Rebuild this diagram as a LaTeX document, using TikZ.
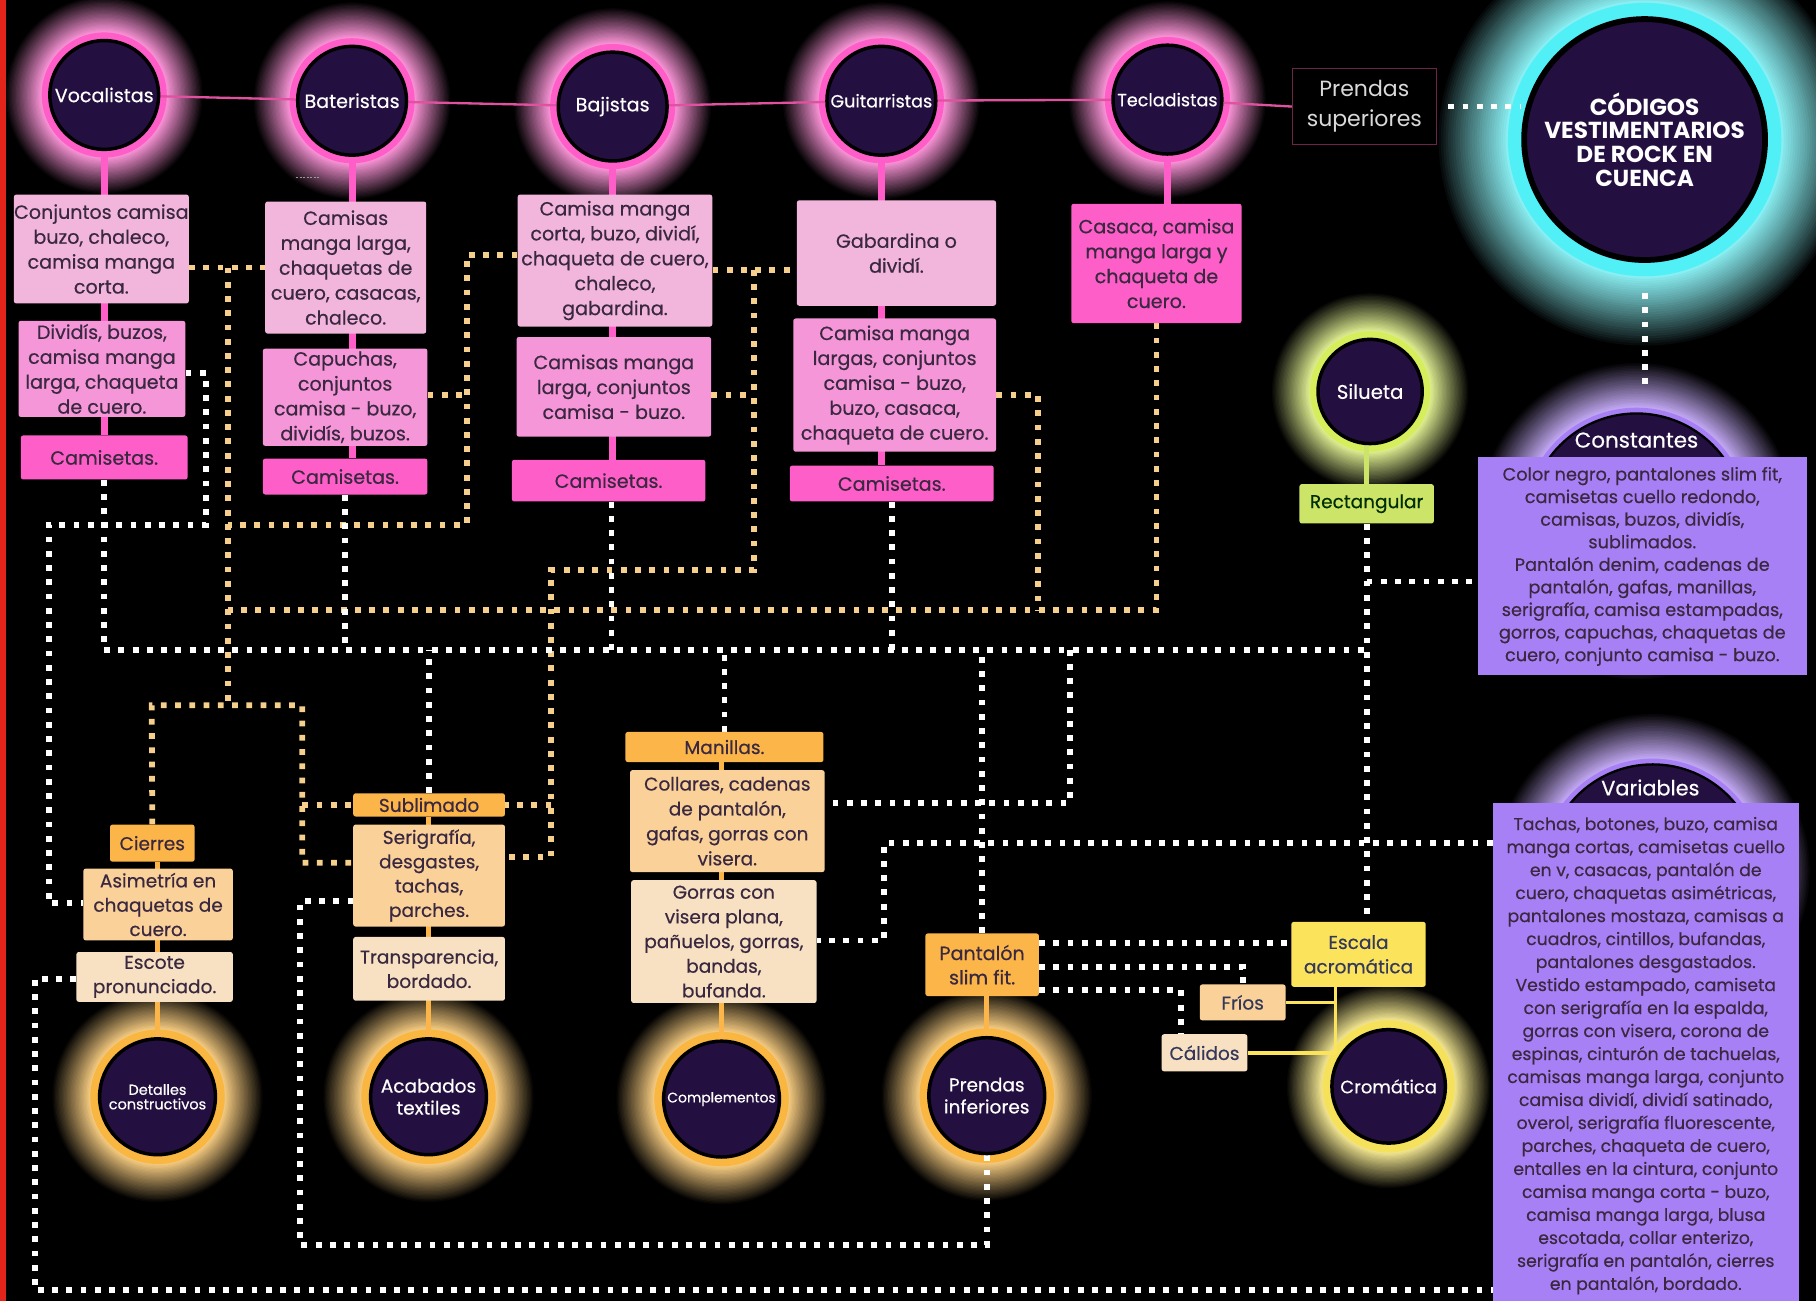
\documentclass[tikz,border=0pt]{standalone}
\usepackage{fontspec}
\setmainfont{Poppins}
\newfontfamily\medf{Poppins}[FakeBold=0.45]
\usetikzlibrary{calc}
\pgfdeclarelayer{bg}
\pgfdeclarelayer{glow}
\pgfdeclarelayer{lines}
\pgfsetlayers{bg,glow,lines,main}
\definecolor{redstripe}{HTML}{E3241B}
\definecolor{cfill}{HTML}{241040}
\definecolor{pinkA}{HTML}{F2B6DC}
\definecolor{pinkB}{HTML}{F596D8}
\definecolor{pinkC}{HTML}{FD5EC8}
\definecolor{pinkline}{HTML}{FF5EC8}
\definecolor{topline}{HTML}{E0529F}
\definecolor{oraA}{HTML}{FBB548}
\definecolor{oraB}{HTML}{F9D199}
\definecolor{oraC}{HTML}{F7E1C2}
\definecolor{odot}{HTML}{F7CF8C}
\definecolor{yel}{HTML}{FCE35C}
\definecolor{lime}{HTML}{CCE467}
\definecolor{limeg}{HTML}{D6EE5C}
\definecolor{purp}{HTML}{A880F6}
\definecolor{cyang}{HTML}{50F0F6}
\definecolor{orag}{HTML}{F9B640}
\definecolor{yelg}{HTML}{F6E15A}
\definecolor{boxtxt}{HTML}{3A2840}
\definecolor{navytxt}{HTML}{34385A}
\definecolor{pstxt}{HTML}{D9D9D9}
\definecolor{psbord}{HTML}{6E2448}
% #1 centre, #2 radius, #3 colour, #4 solid ring width, #5 fade width, #6 fade exponent
\newcommand\glowring[6]{%
  \foreach \k in {30,29,...,1}{%
    \pgfmathtruncatemacro\pc{100*(1-\k/30)^#6}%
    \pgfmathsetmacro\rr{#2+#4+#5*\k/30}%
    \fill[#3!65!white!\pc!black] #1 circle (\rr pt);
  }%
  \pgfmathsetmacro\rr{#2+#4}%
  \fill[#3] #1 circle (\rr pt);
}
\tikzset{
  box/.style={rectangle, rounded corners=2pt, inner sep=0pt, align=center, text=boxtxt, font=\medf\fontsize{16.5}{21.5}\selectfont},
  crc/.style={circle, fill=cfill, draw=black, line width=3pt, inner sep=0pt, align=center, text=white},
  wdot/.style={draw=white, line width=5pt, dash pattern=on 5pt off 7.3pt},
  odots/.style={draw=odot, line width=5pt, dash pattern=on 5pt off 7.3pt},
  pinkc/.style={draw=pinkline, line width=6pt},
  orac/.style={draw=oraA, line width=4.5pt},
  yelc/.style={draw=yel, line width=3pt},
  limec/.style={draw=lime, line width=4pt},
}
\begin{document}
\begin{tikzpicture}[x=1pt,y=-1pt]
\useasboundingbox (0,0) rectangle (1568,1123);
\begin{pgfonlayer}{bg}
\fill[black] (0,0) rectangle (1568,1123);
\end{pgfonlayer}

% ---------- top circles ----------
\node[crc, minimum size=94, font=\medf\fontsize{16.5}{18}\selectfont] (Voc) at (90,82) {Vocalistas};
\node[crc, minimum size=94, font=\medf\fontsize{16.5}{18}\selectfont] (Bat) at (304,87) {Bateristas};
\node[crc, minimum size=94, font=\medf\fontsize{16.5}{18}\selectfont] (Baj) at (529,92) {Bajistas};
\node[crc, minimum size=94, font=\medf\fontsize{15.2}{17}\selectfont] (Gui) at (761,87) {Guitarristas};
\node[crc, minimum size=94, font=\medf\fontsize{15.2}{17}\selectfont] (Tec) at (1008,86) {Tecladistas};

\node[rectangle, draw=psbord, line width=1pt, minimum width=124, minimum height=66, inner sep=0pt, align=center, text=pstxt, font=\fontsize{19}{26}\selectfont] (PS) at (1178,92) {Prendas\\superiores};

\node[crc, line width=5pt, minimum size=208, font=\fontsize{20}{20.5}\bfseries\selectfont] (Main) at (1420,120.5) {CÓDIGOS\\VESTIMENTARIOS\\DE ROCK EN\\CUENCA};

% ---------- pink boxes ----------
\node[box, fill=pinkA, minimum width=151, minimum height=94] (V1) at (87.5,215) {Conjuntos camisa\\buzo, chaleco,\\camisa manga\\corta.};
\node[box, fill=pinkB, minimum width=144, minimum height=83] (V2) at (88,318.5) {Dividís, buzos,\\camisa manga\\larga, chaqueta\\de cuero.};
\node[box, fill=pinkC, minimum width=144, minimum height=38] (V3) at (90,395) {Camisetas.};

\node[box, fill=pinkA, minimum width=139, minimum height=114] (B1) at (298.5,231) {Camisas\\manga larga,\\chaquetas de\\cuero, casacas,\\chaleco.};
\node[box, fill=pinkB, minimum width=142, minimum height=84] (B2) at (298,343) {Capuchas,\\conjuntos\\camisa - buzo,\\dividís, buzos.};
\node[box, fill=pinkC, minimum width=142, minimum height=31] (B3) at (298,411.5) {Camisetas.};

\node[box, fill=pinkA, minimum width=168, minimum height=114] (J1) at (531,225) {Camisa manga\\corta, buzo, dividí,\\chaqueta de cuero,\\chaleco,\\gabardina.};
\node[box, fill=pinkB, minimum width=168, minimum height=86] (J2) at (530,334) {Camisas manga\\larga, conjuntos\\camisa - buzo.};
\node[box, fill=pinkC, minimum width=167, minimum height=36] (J3) at (525.5,415) {Camisetas.};

\node[box, fill=pinkA, minimum width=172, minimum height=91] (G1) at (774,218.5) {Gabardina o\\dividí.};
\node[box, fill=pinkB, minimum width=175, minimum height=115] (G2) at (772.5,332.5) {Camisa manga\\largas, conjuntos\\camisa - buzo,\\buzo, casaca,\\chaqueta de cuero.};
\node[box, fill=pinkC, minimum width=176, minimum height=31] (G3) at (770,417.5) {Camisetas.};

\node[box, fill=pinkC, minimum width=147, minimum height=103] (T1) at (998.5,227.5) {Casaca, camisa\\manga larga y\\chaqueta de\\cuero.};

% ---------- silueta ----------
\node[crc, minimum size=90, font=\medf\fontsize{17}{19}\selectfont] (Sil) at (1183,338) {Silueta};
\node[box, fill=lime, minimum width=116, minimum height=34, text=black!70!green!60!black, font=\medf\fontsize{16}{18}\selectfont] (Rect) at (1180,435) {Rectangular};

% ---------- constantes / variables ----------
\node[circle, fill=cfill, draw=black, line width=2pt, minimum size=186, inner sep=0pt] (CH) at (1413,450) {};
\node[text=white, font=\medf\fontsize{18.5}{20}\selectfont] (CHl) at (1413,380) {Constantes};
\node[box, rounded corners=0pt, fill=purp, minimum width=284, minimum height=188, font=\medf\fontsize{15.3}{19.5}\selectfont] (Const) at (1418,489) {Color negro, pantalones slim fit,\\camisetas cuello redondo,\\camisas, buzos, dividís,\\sublimados.\\Pantalón denim, cadenas de\\pantalón, gafas, manillas,\\serigrafía, camisa estampadas,\\gorros, capuchas, chaquetas de\\cuero, conjunto camisa - buzo.};

\node[circle, fill=cfill, draw=black, line width=2pt, minimum size=184, inner sep=0pt] (VH) at (1427,752) {};
\node[text=white, font=\medf\fontsize{18}{20}\selectfont] (VHl) at (1425,680) {Variables};
\node[box, rounded corners=0pt, fill=purp, minimum width=264, minimum height=436, font=\medf\fontsize{14.9}{19.85}\selectfont] (Var) at (1421,911.5) {Tachas, botones, buzo, camisa\\manga cortas, camisetas cuello\\en v, casacas, pantalón de\\cuero, chaquetas asimétricas,\\pantalones mostaza, camisas a\\cuadros, cintillos, bufandas,\\pantalones desgastados.\\Vestido estampado, camiseta\\con serigrafía en la espalda,\\gorras con visera, corona de\\espinas, cinturón de tachuelas,\\camisas manga larga, conjunto\\camisa dividí, dividí satinado,\\overol, serigrafía fluorescente,\\parches, chaqueta de cuero,\\entalles en la cintura, conjunto\\camisa manga corta - buzo,\\camisa manga larga, blusa\\escotada, collar enterizo,\\serigrafía en pantalón, cierres\\en pantalón, bordado.};

% ---------- bottom boxes ----------
\node[box, fill=oraA, minimum width=73, minimum height=32, font=\medf\fontsize{16}{18}\selectfont] (Cierres) at (131.5,728) {Cierres};
\node[box, fill=oraB, minimum width=129, minimum height=62, font=\medf\fontsize{16}{21}\selectfont] (Asim) at (136.5,781) {Asimetría en\\chaquetas de\\cuero.};
\node[box, fill=oraC, minimum width=135, minimum height=43, font=\medf\fontsize{16}{21}\selectfont] (Escote) at (133.5,843.5) {Escote\\pronunciado.};
\node[crc, minimum size=100, font=\medf\fontsize{12.5}{12.5}\selectfont] (Det) at (136,947) {Detalles\\constructivos};

\node[box, fill=oraA, minimum width=131, minimum height=20, font=\medf\fontsize{16}{18}\selectfont] (Subl) at (370.5,695) {Sublimado};
\node[box, fill=oraB, minimum width=131, minimum height=88, font=\medf\fontsize{16}{21}\selectfont] (Serig) at (370.5,756) {Serigrafía,\\desgastes,\\tachas,\\parches.};
\node[box, fill=oraC, minimum width=131, minimum height=55, font=\medf\fontsize{16}{21}\selectfont] (Transp) at (370.5,836.5) {Transparencia,\\bordado.};
\node[crc, minimum size=100, font=\medf\fontsize{16}{19}\selectfont] (Acab) at (370,947) {Acabados\\textiles};

\node[box, fill=oraA, minimum width=171, minimum height=26, font=\medf\fontsize{16}{18}\selectfont] (Man) at (625.5,645) {Manillas.};
\node[box, fill=oraB, minimum width=168, minimum height=88, font=\medf\fontsize{16}{21.5}\selectfont] (Coll) at (628,709) {Collares, cadenas\\de pantalón,\\gafas, gorras con\\visera.};
\node[box, fill=oraC, minimum width=160, minimum height=106, font=\medf\fontsize{16}{21.3}\selectfont] (Gorras) at (625,813) {Gorras con\\visera plana,\\pañuelos, gorras,\\bandas,\\bufanda.};
\node[crc, minimum size=100, font=\medf\fontsize{12}{14}\selectfont] (Comp) at (623,949) {Complementos};

\node[box, fill=oraA, minimum width=98, minimum height=54, font=\medf\fontsize{16.5}{21}\selectfont] (Pant) at (848,833) {Pantalón\\slim fit.};
\node[crc, minimum size=100, font=\medf\fontsize{16}{19}\selectfont] (PInf) at (852,946) {Prendas\\inferiores};

\node[box, fill=yel, minimum width=116, minimum height=56, text=navytxt, font=\medf\fontsize{16}{21}\selectfont] (Escala) at (1173,824) {Escala\\acromática};
\node[box, fill=oraB, minimum width=74, minimum height=31, text=navytxt, font=\medf\fontsize{16}{18}\selectfont] (Frios) at (1073,865.5) {Fríos};
\node[box, fill=oraC, minimum width=74, minimum height=32, text=navytxt, font=\medf\fontsize{16}{18}\selectfont] (Calidos) at (1040,909) {Cálidos};
\node[crc, minimum size=98, font=\medf\fontsize{15.5}{17}\selectfont] (Crom) at (1199,938) {Cromática};

% left red edge
\fill[redstripe] (0,0) rectangle (5,1123);

% ---------- junction coordinates ----------
\coordinate (oA) at (197,231);
\coordinate (oB) at (197,609);
\coordinate (oC) at (131,609);
\coordinate (oD) at (261,609);
\coordinate (oE) at (261,745);
\coordinate (oF) at (403,220);
\coordinate (oG) at (403,453);
\coordinate (oH) at (403,341);
\coordinate (oI) at (651,233);
\coordinate (oJ) at (651,492);
\coordinate (oK) at (476,492);
\coordinate (oL) at (476,740);
\coordinate (oM) at (651,341);
\coordinate (oN) at (896,341);
\coordinate (oP) at (896,527);
\coordinate (oR) at (197,527);
\coordinate (wA) at (178,322);
\coordinate (wB) at (178,453);
\coordinate (wC) at (42,453);
\coordinate (wD) at (42,780);
\coordinate (bus) at (0,561);
\coordinate (wF) at (924,561);
\coordinate (wG) at (924,693);
\coordinate (wH) at (1180,502);
\coordinate (wI) at (763,728);
\coordinate (wJ) at (763,812);
\coordinate (wK) at (0,814);
\coordinate (wL) at (1073,835);
\coordinate (wM) at (1020,855);
\coordinate (wN) at (259,1075);
\coordinate (wP) at (259,778);
\coordinate (wQ) at (30,845);
\coordinate (wR) at (30,1114);
\coordinate (yJ) at (1153,910);
\coordinate (art1) at (256,153);
\coordinate (art2) at (276,153);

\begin{pgfonlayer}{lines}
% top line
\draw[draw=topline, line width=2pt] (Voc) -- (Bat) -- (Baj) -- (Gui) -- (Tec) -- (PS.west);
% pink columns
\draw[pinkc] (Voc) -- (Voc |- V3.north);
\draw[pinkc] (Bat) -- (Bat |- B3.north);
\draw[pinkc] (Baj) -- (Baj |- J3.north);
\draw[pinkc] (Gui) -- (Gui |- G3.north);
\draw[pinkc] (Tec) -- (Tec |- T1.north);
% bottom columns
\draw[orac] (Det) -- (Det |- Cierres.south);
\draw[orac] (Acab) -- (Acab |- Subl.south);
\draw[orac] (Comp) -- (Comp |- Man.south);
\draw[orac] (PInf) -- (PInf |- Pant.south);
\draw[limec] (Rect.north) -- (Rect.north |- Sil.south);
% yellow
\draw[yelc] (Escala.south -| yJ) -- (yJ);
\draw[yelc] (Frios.east) -- (Frios.east -| yJ);
\draw[yelc] (Calidos.east) -- (Calidos.east -| yJ);
% orange dotted network
\draw[odots] (V1.east |- oA) -- (B1.west |- oA);
\draw[odots] (oA) -- (oB);
\draw[odots] (Cierres.north) -- (oC) -- (oD) -- (oE) -- (Serig.west |- oE);
\draw[odots] (oD |- Subl.west) -- (Subl.west);
\draw[odots] (J1.west |- oF) -- (oF) -- (oG) -- (oG -| oA);
\draw[odots] (B2.east |- oH) -- (oH);
\draw[odots] (J1.east |- oI) -- (G1.west |- oI);
\draw[odots] (oI) -- (oJ) -- (oK) -- (oL) -- (Serig.east |- oL);
\draw[odots] (oK |- Subl.east) -- (Subl.east);
\draw[odots] (J2.east |- oM) -- (oM);
\draw[odots] (G2.east |- oN) -- (oN) -- (oP);
\draw[odots] (T1.south) -- (T1.south |- oP) -- (oR);
% white dotted network
\draw[wdot] (V2.east |- wA) -- (wA) -- (wB) -- (wC) -- (wD) -- (Asim.west |- wD);
\draw[wdot] (V3.south) -- (V3.south |- bus);
\draw[wdot] (B3.south) -- (B3.south |- bus);
\draw[wdot] ([xshift=2.5pt]J3.south) -- ([xshift=2.5pt]J3.south |- bus);
\draw[wdot] (G3.south) -- (G3.south |- bus);
\draw[wdot] (V3.south |- bus) -- (Rect.south |- bus);
\draw[wdot] (Subl.north) -- (Subl.north |- bus);
\draw[wdot] (Man.north) -- (Man.north |- bus);
\draw[wdot] (Pant.north) -- (Pant.north |- bus);
\draw[wdot] (wF) -- (wG) -- (Coll.east |- wG);
\draw[wdot] (Rect.south) -- (Rect.south |- Escala.north);
\draw[wdot] (wH) -- (Const.west |- wH);
\draw[wdot] (Var.west |- wI) -- (wI) -- (wJ) -- (Gorras.east |- wJ);
\draw[wdot] (Pant.east |- wK) -- (Escala.west |- wK);
\draw[wdot] (Pant.east |- wL) -- (wL) -- (Frios.north);
\draw[wdot] (Pant.east |- wM) -- (wM) -- (wM |- Calidos.north);
\draw[wdot] (PInf.south) -- (PInf.south |- wN) -- (wN) -- (wP) -- (Serig.west |- wP);
\draw[wdot] (Escote.west |- wQ) -- (wQ) -- (wR) -- (Var.west |- wR);
\draw[wdot, shorten <=10pt] (PS.east) -- (Main.west |- PS.east);
\draw[wdot, shorten <=26pt, shorten >=18pt] (Main.south) -- (Main.south |- CH.north);
\draw[black!40!white, line width=1pt, dash pattern=on 1.5pt off 1.5pt] (art1) -- (art2);
\end{pgfonlayer}

\begin{pgfonlayer}{glow}
\glowring{(Voc.center)}{47}{pinkline}{7}{32}{1.0}
\glowring{(Bat.center)}{47}{pinkline}{7}{32}{1.0}
\glowring{(Baj.center)}{47}{pinkline}{7}{32}{1.0}
\glowring{(Gui.center)}{47}{pinkline}{7}{32}{1.0}
\glowring{(Tec.center)}{47}{pinkline}{7}{32}{1.0}
\glowring{(Main.center)}{104}{cyang}{14}{62}{0.9}
\glowring{(Sil.center)}{45}{limeg}{7}{34}{1.0}
\glowring{(CH.center)}{93}{purp}{5}{40}{1.0}
\glowring{(VH.center)}{92}{purp}{5}{40}{1.0}
\glowring{(Det.center)}{50}{orag}{8}{34}{1.0}
\glowring{(Acab.center)}{50}{orag}{8}{34}{1.0}
\glowring{(Comp.center)}{50}{orag}{8}{34}{1.0}
\glowring{(PInf.center)}{50}{orag}{8}{34}{1.0}
\glowring{(Crom.center)}{49}{yelg}{8}{32}{1.0}
\end{pgfonlayer}
\end{tikzpicture}
\end{document}
